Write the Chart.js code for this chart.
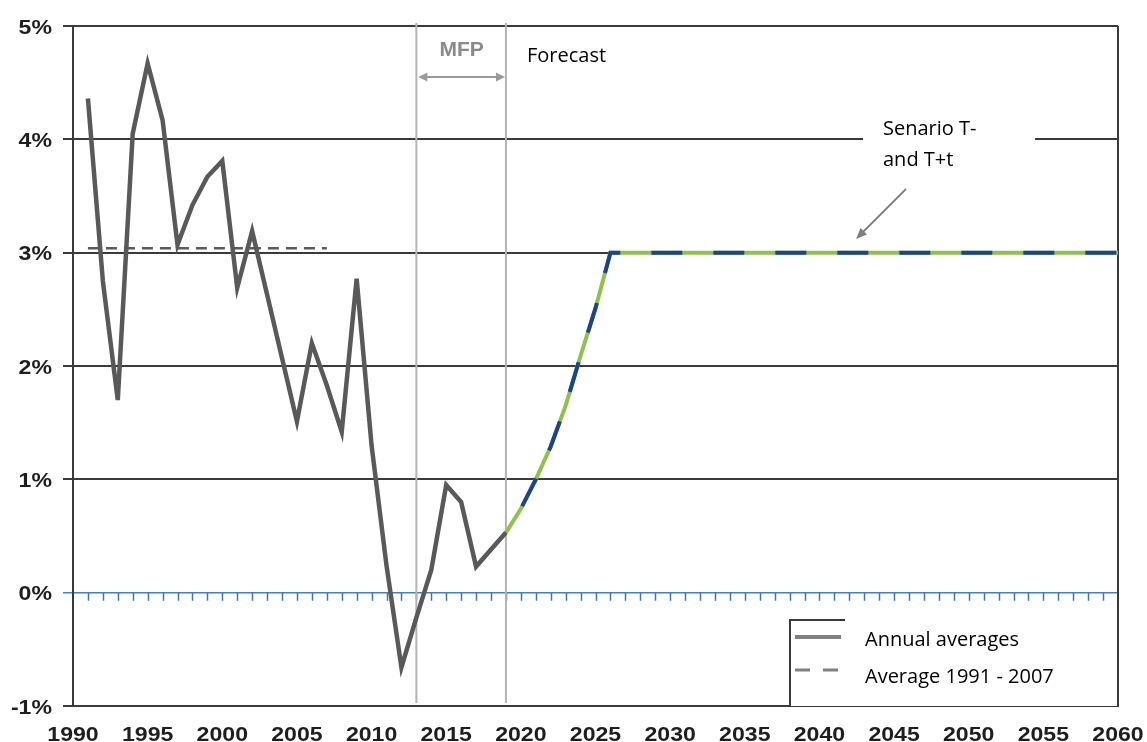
<!DOCTYPE html>
<html>
<head>
<meta charset="utf-8">
<script src="https://cdn.jsdelivr.net/npm/chart.js@4/dist/chart.umd.min.js"></script>
<style>
  body { margin: 0; background: #fff; }
</style>
</head>
<body>
<canvas id="growth_chart" width="1147" height="742"></canvas>
<script>
// annual growth, 1991 - 2019
var annualYears = [1991, 1992, 1993, 1994, 1995, 1996, 1997, 1998, 1999, 2000,
                   2001, 2002, 2003, 2004, 2005, 2006, 2007, 2008, 2009, 2010,
                   2011, 2012, 2013, 2014, 2015, 2016, 2017, 2018, 2019];
var annualValues = [4.36, 2.75, 1.70, 4.05, 4.67, 4.17, 3.07, 3.42, 3.67, 3.81,
                    2.69, 3.19, 2.63, 2.07, 1.51, 2.20, 1.83, 1.42, 2.77, 1.30,
                    0.24, -0.66, -0.22, 0.20, 0.95, 0.80, 0.23, 0.38, 0.53];

// average 1991 - 2007
var avgYears = [1991, 2007];
var avgValues = [3.04, 3.04];

// forecast (scenario T- and T+t)
var forecastYears = [2019, 2020, 2021, 2022, 2023, 2024, 2025, 2026, 2060];
var forecastValues = [0.53, 0.74, 1.00, 1.29, 1.65, 2.09, 2.51, 3.00, 3.00];

// MFP period boundaries
var mfpYears = [2013, 2019];

var tickFont = 'bold 21px "Liberation Sans", Arial, sans-serif';

function toPoints(xs, ys) {
    var pts = [];
    for (var i = 0; i < xs.length; ++i) {
        pts.push({x: xs[i], y: ys[i]});
    }
    return pts;
}

function arrowHead(ctx, x1, y1, x2, y2, len, half) {
    var a = Math.atan2(y2 - y1, x2 - x1);
    ctx.beginPath();
    ctx.moveTo(x2, y2);
    ctx.lineTo(x2 - len * Math.cos(a) + half * Math.sin(a), y2 - len * Math.sin(a) - half * Math.cos(a));
    ctx.lineTo(x2 - len * Math.cos(a) - half * Math.sin(a), y2 - len * Math.sin(a) + half * Math.cos(a));
    ctx.closePath();
    ctx.fill();
}

// draws text squeezed wider, like the stretched original
function wideText(ctx, txt, x, y, align) {
    ctx.save();
    ctx.translate(x, y);
    ctx.scale(1.1, 1);
    ctx.textAlign = align;
    ctx.fillText(txt, 0, 0);
    ctx.restore();
}

var overlay = {
    id: 'overlay',
    beforeDatasetsDraw: function(chart) {
        var ctx = chart.ctx, xs = chart.scales.x, ys = chart.scales.y, area = chart.chartArea;
        ctx.save();
        // small year ticks hanging from the zero line
        var y0 = ys.getPixelForValue(0);
        ctx.strokeStyle = '#3f74b0';
        ctx.lineWidth = 1.5;
        ctx.beginPath();
        for (var yr = 1991; yr < 2060; ++yr) {
            var px = Math.round(xs.getPixelForValue(yr)) + 0.5;
            ctx.moveTo(px, y0);
            ctx.lineTo(px, y0 + 8);
        }
        ctx.stroke();
        // MFP lines
        ctx.strokeStyle = '#b4b4b4';
        ctx.lineWidth = 2;
        ctx.beginPath();
        mfpYears.forEach(function(v) {
            var px = xs.getPixelForValue(v);
            ctx.moveTo(px, area.top - 3);
            ctx.lineTo(px, area.bottom - 3);
        });
        ctx.stroke();
        // right border of the plot
        ctx.strokeStyle = '#3a3a3a';
        ctx.beginPath();
        ctx.moveTo(area.right, area.top);
        ctx.lineTo(area.right, area.bottom);
        ctx.stroke();
        ctx.restore();
    },
    afterDraw: function(chart) {
        var ctx = chart.ctx, xs = chart.scales.x, ys = chart.scales.y, area = chart.chartArea;
        ctx.save();

        // axis labels
        ctx.fillStyle = '#1e1e1e';
        ctx.font = tickFont;
        ctx.textBaseline = 'alphabetic';
        ys.ticks.forEach(function(t) {
            wideText(ctx, t.value + '%', 52, ys.getPixelForValue(t.value) + 7.5, 'right');
        });
        xs.ticks.forEach(function(t) {
            wideText(ctx, String(t.value), xs.getPixelForValue(t.value), 741, 'center');
        });

        // MFP label with double arrow
        var xa = xs.getPixelForValue(mfpYears[0]) + 2;
        var xb = xs.getPixelForValue(mfpYears[1]) - 1;
        ctx.fillStyle = '#8a8a8a';
        ctx.font = 'bold 21px "Liberation Sans", Arial, sans-serif';
        ctx.textAlign = 'center';
        ctx.fillText('MFP', (xa + xb) / 2, 56);
        ctx.strokeStyle = '#9a9a9a';
        ctx.fillStyle = '#9a9a9a';
        ctx.lineWidth = 2;
        ctx.beginPath();
        ctx.moveTo(xa + 6, 77);
        ctx.lineTo(xb - 6, 77);
        ctx.stroke();
        arrowHead(ctx, xb, 77, xa, 77, 9, 4.5);
        arrowHead(ctx, xa, 77, xb, 77, 9, 4.5);

        // Forecast label
        ctx.fillStyle = '#000';
        ctx.font = '20px "Open Sans", sans-serif';
        ctx.textAlign = 'left';
        ctx.fillText('Forecast', 527, 62);

        // scenario note
        ctx.fillStyle = '#fff';
        ctx.fillRect(863, 104, 172, 85);
        ctx.fillStyle = '#000';
        ctx.fillText('Senario T-', 883, 135);
        ctx.fillText('and T+t', 883, 166);
        ctx.strokeStyle = '#7f7f7f';
        ctx.fillStyle = '#7f7f7f';
        ctx.lineWidth = 1.8;
        var tipX = 856, tipY = 239;
        ctx.beginPath();
        ctx.moveTo(906, 189);
        ctx.lineTo(tipX + 5, tipY - 5);
        ctx.stroke();
        arrowHead(ctx, 906, 189, tipX, tipY, 11, 4.5);

        // legend
        var lx = 790, ly = 620, lb = area.bottom;
        ctx.fillStyle = '#fff';
        ctx.fillRect(lx, ly, area.right - lx, lb - ly);
        ctx.strokeStyle = '#3a3a3a';
        ctx.lineWidth = 2;
        ctx.beginPath();
        ctx.moveTo(845, ly);
        ctx.lineTo(lx, ly);
        ctx.lineTo(lx, lb);
        ctx.moveTo(area.right, ly - 10);
        ctx.lineTo(area.right, lb);
        ctx.stroke();
        ctx.strokeStyle = '#808080';
        ctx.lineWidth = 4;
        ctx.beginPath();
        ctx.moveTo(795, 637);
        ctx.lineTo(841, 637);
        ctx.stroke();
        ctx.lineWidth = 3;
        ctx.beginPath();
        ctx.moveTo(795, 670);
        ctx.lineTo(810, 670);
        ctx.moveTo(823, 670);
        ctx.lineTo(838, 670);
        ctx.stroke();
        ctx.fillStyle = '#000';
        ctx.font = '20px "Open Sans", sans-serif';
        ctx.fillText('Annual averages', 865, 646);
        ctx.fillText('Average 1991 - 2007', 865, 683);

        ctx.restore();
    }
};

var ctx = document.getElementById('growth_chart').getContext('2d');
var chart = new Chart(ctx, {
    type: 'line',
    data: {
        datasets: [{
            label: 'Annual averages',
            data: toPoints(annualYears, annualValues),
            borderColor: '#595959',
            borderWidth: 4.5,
            order: 1
        }, {
            label: 'Average 1991 - 2007',
            data: toPoints(avgYears, avgValues),
            borderColor: '#595959',
            borderWidth: 2.5,
            borderDash: [11, 7],
            order: 2
        }, {
            label: 'Scenario (green)',
            data: toPoints(forecastYears, forecastValues),
            borderColor: '#92c050',
            borderWidth: 4,
            order: 4
        }, {
            label: 'Scenario (blue)',
            data: toPoints(forecastYears, forecastValues),
            borderColor: '#1c4587',
            borderWidth: 4,
            borderDash: [31, 31],
            borderDashOffset: 31,
            order: 3
        }]
    },
    options: {
        responsive: false,
        animation: false,
        devicePixelRatio: 1,
        layout: { padding: { top: 26, right: 29, left: 0, bottom: 0 } },
        plugins: { legend: { display: false }, tooltip: { enabled: false } },
        elements: { point: { radius: 0 }, line: { tension: 0, fill: false } },
        scales: {
            x: {
                type: 'linear',
                min: 1990,
                max: 2060,
                afterFit: function(s) {
                    s.height = 36;
                    s.paddingLeft = 0;
                    s.paddingRight = 0;
                },
                grid: { display: false, drawTicks: false },
                border: { display: true, color: '#3a3a3a', width: 2 },
                ticks: { display: false, stepSize: 5 }
            },
            y: {
                min: -1,
                max: 5,
                afterFit: function(s) {
                    s.width = 73;
                    s.paddingTop = 0;
                    s.paddingBottom = 0;
                },
                grid: {
                    color: function(c) { return c.tick && c.tick.value === 0 ? '#4a7ebb' : '#3a3a3a'; },
                    tickColor: function(c) { return c.tick && c.tick.value === 0 ? '#4a7ebb' : '#3a3a3a'; },
                    lineWidth: function(c) { return c.tick && c.tick.value === 0 ? 1.5 : 2; },
                    tickLength: 10
                },
                border: { display: true, color: '#3a3a3a', width: 2 },
                ticks: { display: false, stepSize: 1 }
            }
        }
    },
    plugins: [overlay]
});
</script>
</body>
</html>
